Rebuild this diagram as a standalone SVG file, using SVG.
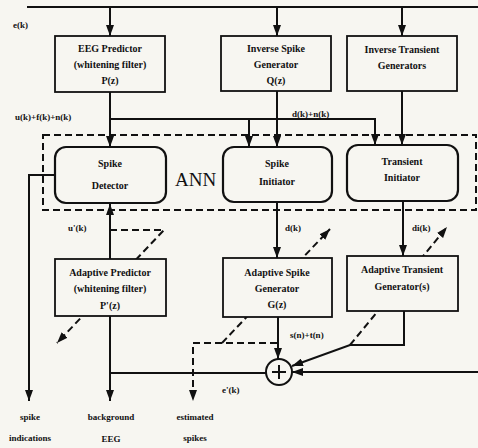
<svg xmlns="http://www.w3.org/2000/svg" width="478" height="448" viewBox="0 0 478 448">
  <style>
    .bg { fill: #f7f6f1; }
    .box { fill: #f7f6f1; stroke: #111; stroke-width: 1.8; }
    .ann { fill: #f7f6f1; stroke: #111; stroke-width: 2.2; }
    .wire { fill: none; stroke: #111; stroke-width: 2; }
    .dash { fill: none; stroke: #111; stroke-width: 2; stroke-dasharray: 7 4; }
    text { font-family: "Liberation Serif", "Times New Roman", serif; font-weight: bold; fill: #111; }
    .t { font-size: 10px; text-anchor: middle; }
    .lbl { font-size: 9px; }
    .big { font-size: 19px; font-weight: normal; }
  </style>
  <defs>
    <marker id="arrow" viewBox="0 0 11 8" refX="11" refY="4" markerWidth="11" markerHeight="8" markerUnits="userSpaceOnUse" orient="auto">
      <path d="M0,0 L11,4 L0,8 z" fill="#111"/>
    </marker>
  </defs>

  <rect class="bg" x="0" y="0" width="478" height="448"/>

  <!-- signal paths -->
  <g id="connectors">
    <path class="wire" d="M27,7 H478"/>
    <path class="wire" d="M110,7 V36" marker-end="url(#arrow)"/>
    <path class="wire" d="M277,7 V36" marker-end="url(#arrow)"/>
    <path class="wire" d="M402,7 V36" marker-end="url(#arrow)"/>

    <path class="wire" d="M110,92 V147" marker-end="url(#arrow)"/>
    <path class="wire" d="M110,119 H375 V145" marker-end="url(#arrow)"/>
    <path class="wire" d="M249,119 V147" marker-end="url(#arrow)"/>
    <path class="wire" d="M277,91 V147" marker-end="url(#arrow)"/>
    <path class="wire" d="M402,91 V145" marker-end="url(#arrow)"/>

    <path class="wire" d="M55,175 H29 V401" marker-end="url(#arrow)"/>

    <path class="wire" d="M110,373 V204" marker-end="url(#arrow)"/>
    <path class="wire" d="M110,373 V401" marker-end="url(#arrow)"/>
    <path class="wire" d="M266,373 H110"/>

    <path class="wire" d="M277,202 V258" marker-end="url(#arrow)"/>
    <path class="wire" d="M403,201 V256" marker-end="url(#arrow)"/>

    <path class="wire" d="M278,317 V359" marker-end="url(#arrow)"/>
    <path class="wire" d="M404,311 V345 H350 L292,366" marker-end="url(#arrow)"/>
    <path class="wire" d="M478,372 H292" marker-end="url(#arrow)"/>

    <path class="dash" d="M277,343 H193 V401" marker-end="url(#arrow)"/>
    <path class="dash" d="M110,230 H164 L57,343" marker-end="url(#arrow)"/>
    <path class="dash" d="M222,343 L330,229" marker-end="url(#arrow)"/>
    <path class="dash" d="M350,345 L447,227" marker-end="url(#arrow)"/>
  </g>

  <!-- ANN boundary -->
  <g id="ann-region">
    <rect class="dash" x="43" y="135" width="433" height="75"/>
    <text class="big" x="175" y="186">ANN</text>
  </g>

  <g id="eeg-predictor">
    <rect class="box" x="55" y="36" width="110" height="56"/>
    <text class="t" x="110" y="52">EEG Predictor</text>
    <text class="t" x="110" y="68">(whitening filter)</text>
    <text class="t" x="110" y="84">P(z)</text>
  </g>

  <g id="inverse-spike-generator">
    <rect class="box" x="221" y="36" width="110" height="55"/>
    <text class="t" x="276" y="52">Inverse Spike</text>
    <text class="t" x="276" y="68">Generator</text>
    <text class="t" x="276" y="84">Q(z)</text>
  </g>

  <g id="inverse-transient-generators">
    <rect class="box" x="347" y="36" width="110" height="55"/>
    <text class="t" x="402" y="53">Inverse Transient</text>
    <text class="t" x="402" y="69">Generators</text>
  </g>

  <g id="spike-detector">
    <rect class="ann" x="55" y="147" width="111" height="56" rx="11"/>
    <text class="t" x="110" y="167">Spike</text>
    <text class="t" x="110" y="189">Detector</text>
  </g>

  <g id="spike-initiator">
    <rect class="ann" x="223" y="147" width="109" height="55" rx="11"/>
    <text class="t" x="277" y="167">Spike</text>
    <text class="t" x="277" y="185">Initiator</text>
  </g>

  <g id="transient-initiator">
    <rect class="ann" x="347" y="145" width="111" height="56" rx="11"/>
    <text class="t" x="402" y="165">Transient</text>
    <text class="t" x="402" y="181">Initiator</text>
  </g>

  <g id="adaptive-predictor">
    <rect class="box" x="55" y="259" width="111" height="57"/>
    <text class="t" x="110" y="276">Adaptive Predictor</text>
    <text class="t" x="110" y="292">(whitening filter)</text>
    <text class="t" x="110" y="309">P'(z)</text>
  </g>

  <g id="adaptive-spike-generator">
    <rect class="box" x="223" y="258" width="109" height="59"/>
    <text class="t" x="277" y="276">Adaptive Spike</text>
    <text class="t" x="277" y="292">Generator</text>
    <text class="t" x="277" y="308">G(z)</text>
  </g>

  <g id="adaptive-transient-generator">
    <rect class="box" x="347" y="256" width="111" height="55"/>
    <text class="t" x="402" y="273">Adaptive Transient</text>
    <text class="t" x="402" y="290">Generator(s)</text>
  </g>

  <g id="summer">
    <circle cx="279" cy="372" r="13" fill="#f7f6f1" stroke="#111" stroke-width="2"/>
    <path d="M272,372 H286 M279,365 V379" stroke="#111" stroke-width="2"/>
  </g>

  <!-- signal names -->
  <g id="labels">
    <text class="lbl" x="13" y="28">e(k)</text>
    <text class="lbl" x="15" y="120">u(k)+f(k)+n(k)</text>
    <text class="lbl" x="292" y="117" font-size="8">d(k)+n(k)</text>
    <text class="lbl" x="68" y="231">u'(k)</text>
    <text class="lbl" x="285" y="231">d(k)</text>
    <text class="lbl" x="412" y="231">di(k)</text>
    <text class="lbl" x="290" y="338">s(n)+t(n)</text>
    <text class="lbl" x="222" y="393">e'(k)</text>
    <text class="lbl" x="30" y="420" text-anchor="middle">spike</text>
    <text class="lbl" x="30" y="441" text-anchor="middle">indications</text>
    <text class="lbl" x="111" y="420" text-anchor="middle">background</text>
    <text class="lbl" x="111" y="442" text-anchor="middle" font-size="10">EEG</text>
    <text class="lbl" x="195" y="420" text-anchor="middle">estimated</text>
    <text class="lbl" x="195" y="441" text-anchor="middle">spikes</text>
  </g>
</svg>
